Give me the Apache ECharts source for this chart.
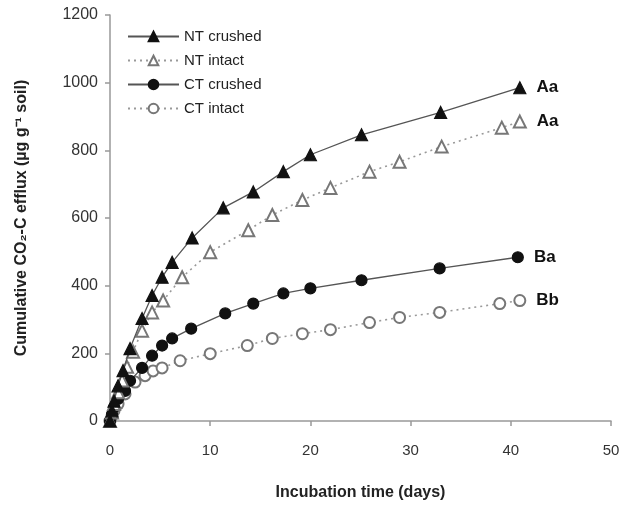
<!DOCTYPE html>
<html>
<head>
<meta charset="utf-8">
<script src="https://cdn.jsdelivr.net/npm/echarts@6/dist/echarts.min.js"></script>
<style>html,body{margin:0;padding:0;background:#fff;}#c{width:623px;height:506px;}</style>
</head>
<body>
<div id="c"></div>
<script>
var seriesNames = ['NT crushed', 'NT intact', 'CT crushed', 'CT intact'];
var endLabels = ['Aa', 'Aa', 'Ba', 'Bb'];
var xTicks = [0, 10, 20, 30, 40, 50];
var yTicks = [0, 200, 400, 600, 800, 1000, 1200];

var ntCrushedX = [0, 0.2, 0.4, 0.8, 1.3, 2, 3.2, 4.2, 5.2, 6.2, 8.2, 11.3, 14.3, 17.3, 20, 25.1, 33, 40.9];
var ntCrushedY = [0, 30, 59, 104, 149, 214, 303, 371, 425, 469, 541, 630, 677, 737, 787, 846, 912, 985];

var ntIntactX = [0, 0.2, 0.4, 0.8, 1.2, 1.7, 2.3, 3.2, 4.2, 5.3, 7.2, 10, 13.8, 16.2, 19.2, 22, 25.9, 28.9, 33.1, 39.1, 40.9];
var ntIntactY = [0, 25, 50, 85, 120, 160, 205, 267, 321, 356, 425, 499, 564, 609, 653, 689, 737, 766, 811, 867, 885];

var ctCrushedX = [0, 0.2, 0.4, 0.8, 1.5, 2, 3.2, 4.2, 5.2, 6.2, 8.1, 11.5, 14.3, 17.3, 20, 25.1, 32.9, 40.7];
var ctCrushedY = [0, 20, 40, 65, 89, 119, 157, 193, 223, 244, 273, 318, 347, 377, 392, 416, 451, 484];

var ctIntactX = [0, 0.2, 0.4, 0.8, 1.5, 2.5, 3.5, 4.3, 5.2, 7, 10, 13.7, 16.2, 19.2, 22, 25.9, 28.9, 32.9, 38.9, 40.9];
var ctIntactY = [0, 15, 30, 50, 80, 115, 134, 148, 157, 178, 199, 223, 244, 258, 270, 291, 306, 321, 347, 356];

function pairs(xs, ys) {
  return xs.map(function (x, i) { return [x, ys[i]]; });
}
var allX = [ntCrushedX, ntIntactX, ctCrushedX, ctIntactX];
var allY = [ntCrushedY, ntIntactY, ctCrushedY, ctIntactY];
var symbols = ['triangle', 'emptyTriangle', 'circle', 'emptyCircle'];
var sizes = [12, 12, 11, 11];
var lineColors = ['#555', '#999', '#555', '#999'];
var symColors = ['#111', '#777', '#111', '#777'];
var lineTypes = ['solid', [2, 4], 'solid', [2, 4]];

var FONT = 'Liberation Sans, Arial, sans-serif';

var series = seriesNames.map(function (name, k) {
  var n = allX[k].length;
  return {
    name: name,
    type: 'line',
    data: pairs(allX[k], allY[k]),
    symbol: symbols[k],
    symbolSize: sizes[k],
    showAllSymbol: true,
    lineStyle: { color: lineColors[k], width: k % 2 === 0 ? 1.3 : 1.6, type: lineTypes[k] },
    itemStyle: { color: symColors[k], borderColor: symColors[k], borderWidth: 1.2 },
    label: {
      show: true,
      position: 'right',
      distance: 10,
      fontFamily: FONT,
      fontWeight: 'bold',
      fontSize: 17,
      color: '#111',
      formatter: function (p) { return p.dataIndex === n - 1 ? endLabels[k] : ''; }
    },
    emphasis: { disabled: true },
    z: 10 - k
  };
});

var chart = echarts.init(document.getElementById('c'));
chart.setOption({
  animation: false,
  backgroundColor: '#fff',
  legend: {
    orient: 'vertical',
    left: 122,
    top: 24,
    itemWidth: 51,
    itemHeight: 12,
    itemGap: 9,
    textStyle: { fontFamily: FONT, fontSize: 15, color: '#222' },
    data: seriesNames
  },
  grid: { left: 110, right: 12, top: 15, bottom: 84 },
  xAxis: {
    type: 'value',
    min: xTicks[0],
    max: xTicks[xTicks.length - 1],
    interval: 10,
    name: 'Incubation time (days)',
    nameLocation: 'middle',
    nameGap: 64,
    nameTextStyle: { fontFamily: FONT, fontWeight: 'bold', fontSize: 16, color: '#222' },
    axisLine: { lineStyle: { color: '#999', width: 1.5 } },
    axisTick: { show: true, length: 5, lineStyle: { color: '#999', width: 1.5 } },
    axisLabel: { margin: 22, fontFamily: FONT, fontSize: 15, color: '#333' },
    splitLine: { show: false }
  },
  yAxis: {
    type: 'value',
    min: yTicks[0],
    max: yTicks[yTicks.length - 1],
    interval: 200,
    name: 'Cumulative CO\u2082-C efflux (\u00b5g g\u207b\u00b9 soil)',
    nameLocation: 'middle',
    nameGap: 80,
    nameTextStyle: { fontFamily: FONT, fontWeight: 'bold', fontSize: 16, color: '#222' },
    axisLine: { show: true, lineStyle: { color: '#999', width: 1.5 } },
    axisTick: { show: true, length: 5, lineStyle: { color: '#999', width: 1.5 } },
    axisLabel: { margin: 12, fontFamily: FONT, fontSize: 16, color: '#333', formatter: function (v) { return String(v); } },
    splitLine: { show: false }
  },
  series: series
});
</script>
</body>
</html>
